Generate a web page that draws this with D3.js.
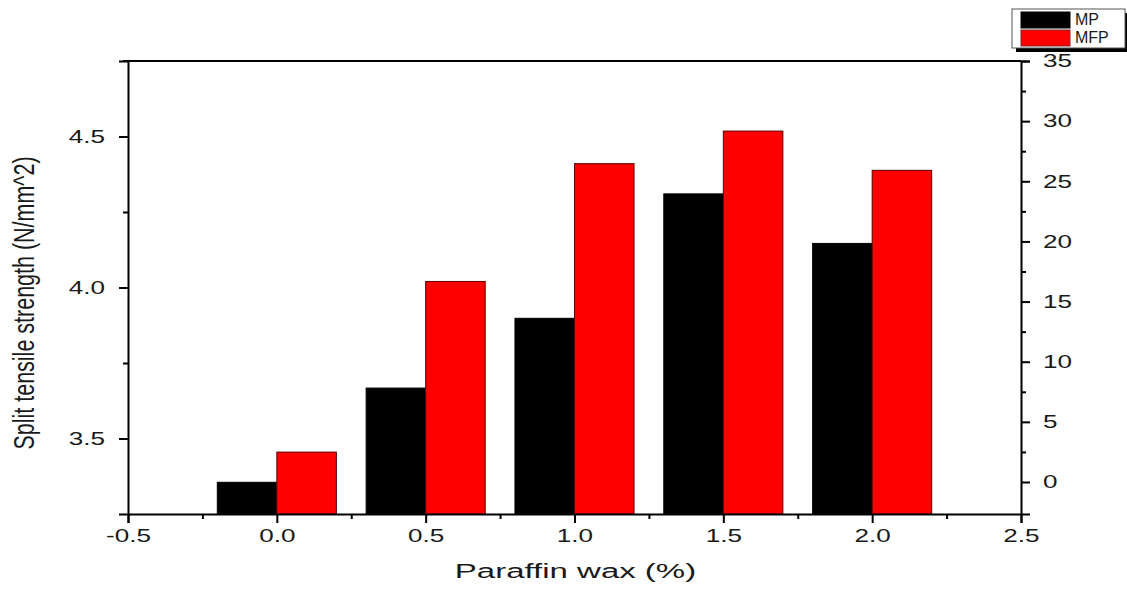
<!DOCTYPE html>
<html>
<head>
<meta charset="utf-8">
<script src="https://cdn.jsdelivr.net/npm/d3@7"></script>
<style>
  body { margin: 0; background: #fff; }
  svg text { font-family: "Liberation Sans", Arial, sans-serif; fill: #1a1a1a; }
</style>
</head>
<body>
<div id="chart"></div>
<script>
// paraffin wax content (%)
const categories = [0.0, 0.5, 1.0, 1.5, 2.0];
// split tensile strength (N/mm^2)
const mpValues = [3.355, 3.667, 3.898, 4.31, 4.146];
const mfpValues = [3.455, 4.02, 4.41, 4.518, 4.388];
const seriesNames = ["MP", "MFP"];
const xTicks = [-0.5, 0.0, 0.5, 1.0, 1.5, 2.0, 2.5];
const yLeftTicks = [3.5, 4.0, 4.5];
const yRightTicks = [0, 5, 10, 15, 20, 25, 30, 35];

const W = 1127, H = 590;
const m = { left: 128, right: 1021, top: 61, bottom: 514 };
const barW = 0.2;
const stretch = 1.45; // the original picture is wide-stretched

const svg = d3.select("#chart").append("svg")
  .attr("width", W).attr("height", H);

const x = d3.scaleLinear().domain([-0.5, 2.5]).range([m.left, m.right]);
const yL = d3.scaleLinear().domain([3.25, 4.75]).range([m.bottom, m.top]);
const yR = d3.scaleLinear().domain([-2.66, 35]).range([m.bottom, m.top]);

const colors = { MP: "#000000", MFP: "#ff0000" };

// bars
const rows = categories.map((c, i) => ({ c, MP: mpValues[i], MFP: mfpValues[i] }));
const plot = svg.append("g");
rows.forEach(r => {
  plot.append("rect")
    .attr("x", x(r.c - barW))
    .attr("width", x(r.c) - x(r.c - barW))
    .attr("y", yL(r.MP))
    .attr("height", m.bottom - yL(r.MP))
    .attr("fill", colors.MP)
    .attr("stroke", "#000").attr("stroke-width", 1);
  plot.append("rect")
    .attr("x", x(r.c))
    .attr("width", x(r.c + barW) - x(r.c))
    .attr("y", yL(r.MFP))
    .attr("height", m.bottom - yL(r.MFP))
    .attr("fill", colors.MFP)
    .attr("stroke", "#5a0000").attr("stroke-width", 1);
});

// plain hyphen for negatives, like the original
const fmt1 = d => d3.format(".1f")(d).replace("−", "-");

// bottom axis
svg.append("g")
  .attr("transform", `translate(0,${m.bottom})`)
  .call(d3.axisBottom(x).tickValues(xTicks).tickFormat(fmt1).tickSize(9).tickPadding(6));
svg.append("g")
  .attr("transform", `translate(0,${m.bottom})`)
  .call(d3.axisBottom(x).tickValues(d3.range(-0.25, 2.5, 0.5)).tickFormat("").tickSize(5))
  .select(".domain").remove();

// left axis
svg.append("g")
  .attr("transform", `translate(${m.left},0)`)
  .call(d3.axisLeft(yL).tickValues(yLeftTicks).tickFormat(fmt1).tickSize(9).tickPadding(14));
svg.append("g")
  .attr("transform", `translate(${m.left},0)`)
  .call(d3.axisLeft(yL).tickValues([3.75, 4.25]).tickFormat("").tickSize(5))
  .select(".domain").remove();

// right axis
svg.append("g")
  .attr("transform", `translate(${m.right},0)`)
  .call(d3.axisRight(yR).tickValues(yRightTicks).tickSize(9).tickPadding(13));
svg.append("g")
  .attr("transform", `translate(${m.right},0)`)
  .call(d3.axisRight(yR).tickValues(d3.range(2.5, 35, 5)).tickFormat("").tickSize(5))
  .select(".domain").remove();

// top line
svg.append("line")
  .attr("x1", m.left - 5).attr("x2", m.right)
  .attr("y1", m.top).attr("y2", m.top)
  .attr("stroke", "#000").attr("stroke-width", 2);

svg.selectAll(".domain").attr("stroke-width", 2).attr("stroke", "#000");
svg.selectAll(".tick line").attr("stroke-width", 2).attr("stroke", "#000");
svg.selectAll(".tick text").each(function() {
  const t = d3.select(this);
  const dx = +t.attr("x") || 0;
  t.attr("x", 0)
    .attr("transform", `translate(${dx},0) scale(${stretch},1)`)
    .style("font-size", "18px")
    .attr("fill", "#1a1a1a");
});

// axis titles
svg.append("text")
  .attr("transform", `translate(${(m.left + m.right) / 2 + 1},578) scale(1.65,1)`)
  .attr("text-anchor", "middle")
  .style("font-size", "20px")
  .text("Paraffin wax (%)");

svg.append("text")
  .attr("transform", `translate(34,303) scale(1.4,1) rotate(-90)`)
  .attr("text-anchor", "middle")
  .style("font-size", "21.5px")
  .text("Split tensile strength (N/mm^2)");

// legend
const lg = svg.append("g").attr("transform", "translate(1012,9)");
lg.append("rect").attr("x", 4).attr("y", 4).attr("width", 113).attr("height", 39).attr("fill", "#000");
lg.append("rect").attr("x", 0).attr("y", 0).attr("width", 113).attr("height", 39)
  .attr("fill", "#fff").attr("stroke", "#555").attr("stroke-width", 1);
seriesNames.forEach((name, i) => {
  lg.append("rect")
    .attr("x", 9).attr("y", 3 + i * 18)
    .attr("width", 49).attr("height", 16)
    .attr("fill", colors[name])
    .attr("stroke", name === "MFP" ? "#7a2a2a" : "#000");
  lg.append("text")
    .attr("x", 63).attr("y", 16 + i * 18)
    .style("font-size", "16px")
    .attr("fill", "#2a2a3a")
    .text(name);
});
</script>
</body>
</html>
